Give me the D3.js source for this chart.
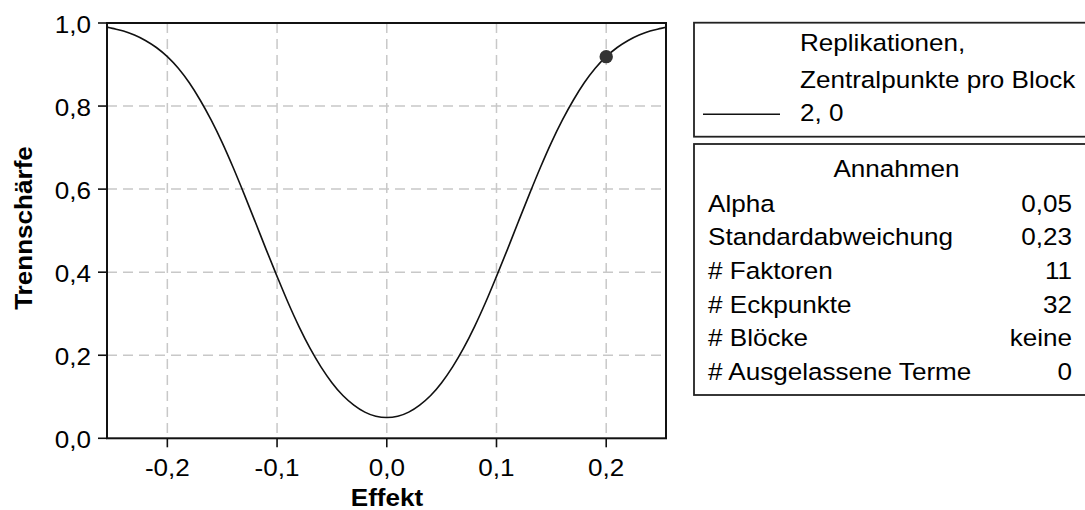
<!DOCTYPE html>
<html>
<head>
<meta charset="utf-8">
<script src="https://cdn.jsdelivr.net/npm/d3@7"></script>
<style>
  html, body { margin: 0; padding: 0; background: #fff; }
  svg { display: block; font-family: "Liberation Sans", Arial, sans-serif; }
</style>
</head>
<body>
<svg id="chart" width="1085" height="510"></svg>
<script>
// power curve
const effects = [-0.255, -0.25, -0.24, -0.23, -0.22, -0.21, -0.20, -0.19, -0.18, -0.17, -0.16,
    -0.15, -0.14, -0.13, -0.12, -0.11, -0.10, -0.09, -0.08, -0.07, -0.06, -0.05, -0.04, -0.03,
    -0.02, -0.01, 0.00, 0.01, 0.02, 0.03, 0.04, 0.05, 0.06, 0.07, 0.08, 0.09, 0.10, 0.11, 0.12,
    0.13, 0.14, 0.15, 0.16, 0.17, 0.18, 0.19, 0.20, 0.21, 0.22, 0.23, 0.24, 0.25, 0.255];
const power = [0.990, 0.987, 0.981, 0.971, 0.958, 0.941, 0.919, 0.891, 0.856, 0.814, 0.766,
    0.712, 0.652, 0.588, 0.522, 0.455, 0.390, 0.327, 0.269, 0.217, 0.172, 0.134, 0.103, 0.080,
    0.063, 0.053, 0.050, 0.053, 0.063, 0.080, 0.103, 0.134, 0.172, 0.217, 0.269, 0.327, 0.390,
    0.455, 0.522, 0.588, 0.652, 0.712, 0.766, 0.814, 0.856, 0.891, 0.919, 0.941, 0.958, 0.971,
    0.981, 0.987, 0.990];
const designPoint = { effect: 0.2, power: 0.919 };

const xTicks = [-0.2, -0.1, 0.0, 0.1, 0.2];
const yTicks = [0.0, 0.2, 0.4, 0.6, 0.8, 1.0];

const legendHeader = ['Replikationen,', 'Zentralpunkte pro Block'];
const legendSeries = ['2, 0'];

const assumptionLabels = ['Alpha', 'Standardabweichung', '# Faktoren', '# Eckpunkte', '# Blöcke', '# Ausgelassene Terme'];
const assumptionValues = ['0,05', '0,23', '11', '32', 'keine', '0'];

const fmt = v => d3.format('.1f')(v).replace('.', ',').replace('−', '-');
const SX = 1.11;   // the source font runs wide
const FS = 23.5;

const svg = d3.select('#chart');

function txt(parent, x, y, s, anchor = 'start', weight = 'normal') {
    return parent.append('text')
        .attr('transform', `translate(${x},${y}) scale(${SX},1)`)
        .attr('text-anchor', anchor)
        .attr('font-size', FS)
        .attr('font-weight', weight)
        .attr('fill', '#000')
        .text(s);
}

const L = 107, R = 666, T = 23, B = 438.3;
const x = d3.scaleLinear().domain([-0.255, 0.2545]).range([L, R]);
const y = d3.scaleLinear().domain([0, 1]).range([B, T]);

// grid
const grid = svg.append('g').attr('stroke', '#c8c8c8').attr('stroke-width', 1.5).attr('stroke-dasharray', '10,6');
grid.selectAll('.gx').data(xTicks).join('line')
    .attr('x1', d => x(d)).attr('x2', d => x(d)).attr('y1', T).attr('y2', B);
grid.selectAll('.gy').data(yTicks.slice(1, -1)).join('line')
    .attr('x1', L).attr('x2', R).attr('y1', d => y(d)).attr('y2', d => y(d));

// curve
const line = d3.line().x((d, i) => x(effects[i])).y(d => y(d)).curve(d3.curveMonotoneX);
svg.append('path')
    .attr('d', line(power))
    .attr('fill', 'none')
    .attr('stroke', '#111')
    .attr('stroke-width', 1.6);

svg.append('circle')
    .attr('cx', x(designPoint.effect)).attr('cy', y(designPoint.power))
    .attr('r', 6.7).attr('fill', '#333');

// frame
svg.append('rect')
    .attr('x', L).attr('y', T).attr('width', R - L).attr('height', B - T)
    .attr('fill', 'none').attr('stroke', '#111').attr('stroke-width', 2);

// ticks + labels
const ax = svg.append('g').attr('stroke', '#111').attr('stroke-width', 1.6);
ax.selectAll('.tx').data(xTicks).join('line')
    .attr('x1', d => x(d)).attr('x2', d => x(d)).attr('y1', B).attr('y2', B + 9);
ax.selectAll('.ty').data(yTicks).join('line')
    .attr('x1', L - 9).attr('x2', L).attr('y1', d => y(d)).attr('y2', d => y(d));

xTicks.forEach(t => txt(svg, x(t), 476, fmt(t), 'middle'));
yTicks.forEach(t => txt(svg, 91, y(t) + 10, fmt(t), 'end'));

txt(svg, 387, 506, 'Effekt', 'middle', 'bold');
svg.append('text')
    .attr('transform', `translate(31.5,228) rotate(-90) scale(${SX},1)`)
    .attr('text-anchor', 'middle')
    .attr('font-size', FS)
    .attr('font-weight', 'bold')
    .text('Trennschärfe');

// legend box 1
const boxL = 694, boxR = 1099;
svg.append('rect')
    .attr('x', boxL).attr('y', 22.7).attr('width', boxR - boxL).attr('height', 114)
    .attr('fill', 'none').attr('stroke', '#222').attr('stroke-width', 1.8);
txt(svg, 800, 50.5, legendHeader[0]);
txt(svg, 800, 87.5, legendHeader[1]);
legendSeries.forEach((s, i) => {
    svg.append('line')
        .attr('x1', 703).attr('x2', 780).attr('y1', 114.3 + i * 33).attr('y2', 114.3 + i * 33)
        .attr('stroke', '#111').attr('stroke-width', 1.6);
    txt(svg, 800, 120.5 + i * 33, s);
});

// legend box 2 (assumptions)
svg.append('rect')
    .attr('x', boxL).attr('y', 144).attr('width', boxR - boxL).attr('height', 251)
    .attr('fill', 'none').attr('stroke', '#222').attr('stroke-width', 1.8);
txt(svg, 896.5, 177, 'Annahmen', 'middle');
assumptionLabels.forEach((s, i) => {
    const by = 211.5 + i * 33.7;
    txt(svg, 708, by, s);
    txt(svg, 1072, by, assumptionValues[i], 'end');
});
</script>
</body>
</html>
